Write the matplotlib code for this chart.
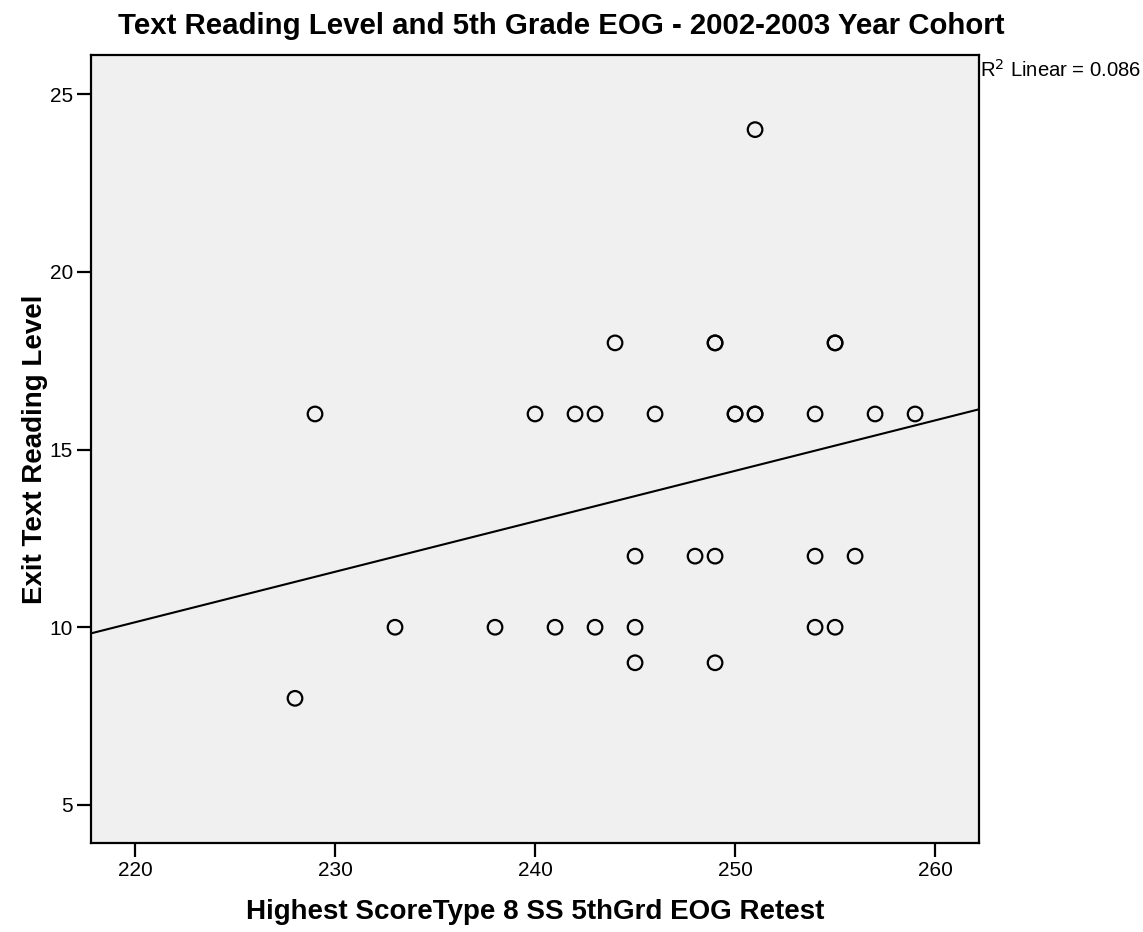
import numpy as np
import matplotlib
matplotlib.use('Agg')
import matplotlib.pyplot as plt

plt.rcParams['font.family'] = ['Liberation Sans', 'DejaVu Sans']

# Scores and reading levels (some points overlap)
eog_score = [228, 229, 233, 238, 240, 241, 242, 243, 243, 244, 245, 245, 245,
             246, 248, 249, 249, 249, 249, 250, 250, 251, 251, 251, 254, 254,
             254, 255, 255, 255, 256, 257, 259]
reading_level = [8, 16, 10, 10, 16, 10, 16, 16, 10, 18, 12, 10, 9,
                 16, 12, 18, 18, 12, 9, 16, 16, 16, 16, 24, 16, 12,
                 10, 18, 18, 10, 12, 16, 16]

# Fit line as shown in the chart
fit_slope = 0.142
fit_intercept = -21.1
r_squared = 0.086

x_ticks = [220, 230, 240, 250, 260]
y_ticks = [5, 10, 15, 20, 25]

fig = plt.figure(figsize=(11.43, 9.32), dpi=100)
ax = fig.add_axes([0.0796, 0.0955, 0.777, 0.8455])
ax.set_facecolor('#f0f0f0')

x_min, x_max = 217.8, 262.2
ax.set_xlim(x_min, x_max)
ax.set_ylim(3.93, 26.1)

# Regression line across the full axis
xs = np.array([x_min, x_max])
ax.plot(xs, fit_intercept + fit_slope * xs, color='black', lw=1.5, zorder=2)

ax.scatter(eog_score, reading_level, s=110, facecolors='none',
           edgecolors='black', linewidths=1.6, zorder=3)

ax.set_xticks(x_ticks)
ax.set_yticks(y_ticks)
ax.tick_params(direction='out', length=10, width=1.6, labelsize=15, pad=3)
for sp in ax.spines.values():
    sp.set_linewidth(1.6)

# title is centred on the figure, not the axes
fig.text(0.491, 0.972,
         'Text Reading Level and 5th Grade EOG - 2002-2003 Year Cohort',
         fontsize=21.2, fontweight='bold', ha='center', va='center')
ax.set_xlabel('Highest ScoreType 8 SS 5thGrd EOG Retest', fontsize=20,
              fontweight='bold', labelpad=14)
ax.set_ylabel('Exit Text Reading Level', fontsize=20, fontweight='bold',
              labelpad=1)

fig.text(0.857, 0.925, 'R$^2$ Linear = %.3f' % r_squared, fontsize=14.6,
         ha='left', va='center')

fig.savefig('out.png', dpi=100)
